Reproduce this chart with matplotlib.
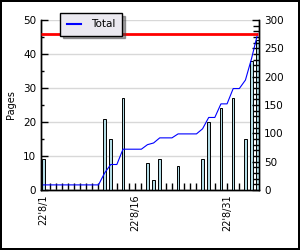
import matplotlib
matplotlib.use("Agg")
import matplotlib.pyplot as plt
import numpy as np
import pandas as pd

# 每日阅读页数 (2022-08-01 起, 共36天)
start_date = "2022-08-01"
n_days = 36
read_days = [1, 11, 12, 14, 18, 19, 20, 23, 27, 28, 30, 32, 34, 35, 36]
read_pages = [9, 21, 15, 27, 8, 3, 9, 7, 9, 20, 24, 27, 15, 38, 44]
label_every = 15

pages = np.zeros(n_days)
for d, p in zip(read_days, read_pages):
    pages[d - 1] = p
cum = np.cumsum(pages)
total = cum[-1]
dates = pd.date_range(start_date, periods=n_days)
x = np.arange(n_days)

plt.rcParams['font.family'] = ['DejaVu Sans']

fig = plt.figure(figsize=(3, 2.5), dpi=100, linewidth=1.5, edgecolor="black")
ax = fig.add_axes([0.137, 0.24, 0.727, 0.68])
ax2 = ax.twinx()

ax.bar(x, pages, width=0.42, color="#b4dde6", edgecolor="black", linewidth=0.7, zorder=3)
ax.set_ylim(0, 50)
ax.set_xlim(-0.375, 35.25)
ax.set_yticks(np.arange(0, 51, 10))
ax.set_yticks(np.arange(0, 51, 5), minor=True)
ax.grid(axis="y", color="#d8d8d8", linewidth=1, zorder=0)
ax.set_axisbelow(True)
ax.set_ylabel("Pages", fontsize=7, labelpad=5)

ax.set_xticks(x)
ax.set_xticklabels([f"{d.strftime('%y')}'{d.month}/{d.day}" if i % label_every == 0 else ""
                    for i, d in enumerate(dates)], rotation=90, fontsize=7)
ax.tick_params(axis="x", direction="in", length=5, width=1, pad=3)
ax.tick_params(axis="y", which="major", direction="in", length=5, width=1, labelsize=7.5)
ax.tick_params(axis="y", which="minor", direction="in", length=2.5, width=1)

line, = ax2.plot(x, cum, color="blue", linewidth=0.8, label="Total", zorder=4)
ax2.hlines(total, -0.375, x[-1], color="red", linewidth=2, zorder=5)
ax2.set_ylim(0, 300)
ax2.set_yticks(np.arange(0, 301, 50))
ax2.set_yticks(np.arange(0, 301, 10), minor=True)
ax2.tick_params(axis="y", which="major", direction="in", length=5, width=1, labelsize=7.5)
ax2.tick_params(axis="y", which="minor", direction="in", length=4, width=1)

for a in (ax, ax2):
    a.spines["top"].set_visible(False)
    for s in ("left", "right", "bottom"):
        a.spines[s].set_linewidth(1)

leg = ax2.legend(handles=[line], loc="upper left", bbox_to_anchor=(0.088, 1.04),
                 borderaxespad=0, fontsize=7.5, fancybox=False, shadow=True,
                 handlelength=1.4, handletextpad=1.0, framealpha=1, borderpad=0.6)
leg.get_frame().set_facecolor("#ebe9f0")
leg.get_frame().set_edgecolor("black")
leg.get_frame().set_linewidth(1)
leg.get_lines()[0].set_linewidth(1.5)

fig.savefig("out.png", dpi=100)
plt.close()
